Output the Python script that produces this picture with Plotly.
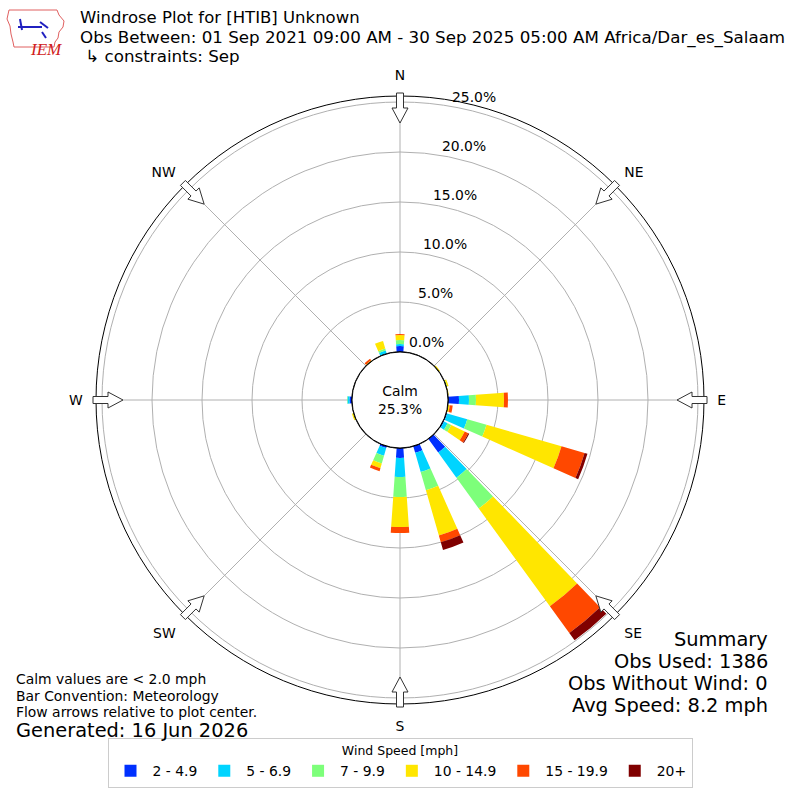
import math
import plotly.graph_objects as go

# wind direction bins (deg) and percent of obs per speed class
directions = [0, 50, 70, 80, 90, 100, 110, 120, 140, 160, 180, 200, 250, 270, 320, 340]
speed_bins = ["2 - 4.9", "5 - 6.9", "7 - 9.9", "10 - 14.9", "15 - 19.9", "20+"]
s_2_5 = [0.6, 0, 0, 0, 1.1, 0, 0.1, 0.1, 1.7, 0.7, 1.0, 0.2, 0, 0.25, 0, 0.05]
s_5_7 = [0.2, 0, 0, 0, 1.0, 0, 2.1, 0.4, 3.1, 2.0, 1.9, 0.8, 0, 0.2, 0, 0.3]
s_7_10 = [0.4, 0, 0.1, 0, 0.7, 0, 2.0, 0.4, 3.8, 1.9, 2.0, 0.8, 0.05, 0.05, 0, 0.2]
s_10_15 = [0.5, 0.15, 0.15, 0.1, 2.8, 0.2, 7.8, 1.5, 12.1, 4.7, 3.0, 0.5, 0.15, 0, 0.1, 0.8]
s_15_20 = [0.1, 0, 0, 0, 0.4, 0.3, 2.4, 0.4, 3.3, 0.7, 0.6, 0.3, 0, 0, 0.2, 0]
s_20p = [0, 0, 0, 0, 0, 0, 0.3, 0.1, 0.9, 0.8, 0, 0, 0, 0, 0, 0]
series = [s_2_5, s_5_7, s_7_10, s_10_15, s_15_20, s_20p]
colors = ["#0030ff", "#00d4ff", "#7dff7a", "#ffe600", "#ff4800", "#800000"]

calm_pct = 25.3
radial_ticks = [0, 5, 10, 15, 20, 25]
compass = ["N", "NE", "E", "SE", "S", "SW", "W", "NW"]
compass_deg = [0, 45, 90, 135, 180, 225, 270, 315]

W = H = 800
R_OUT = 304
R_HOLE = 48
R_MAX = 25.6
scale = (R_OUT - R_HOLE) / R_MAX

fig = go.Figure()
for name, vals, color in zip(speed_bins, series, colors):
    fig.add_trace(go.Barpolar(
        r=vals, theta=directions, width=8, name=name,
        marker=dict(color=color, line=dict(width=0)),
    ))

# black ring around the calm hole
fig.add_trace(go.Scatterpolar(
    r=[0] * 361, theta=list(range(361)), mode="lines",
    line=dict(color="black", width=1.3), showlegend=False, hoverinfo="skip",
))


def px(x, y):
    return x / W, 1 - y / H


# hollow flow arrows on the rim
shapes = []
arrow = [(277, 0), (292, 8), (292, 3.5), (307, 3.5), (307, -3.5), (292, -3.5), (292, -8)]
for deg in compass_deg:
    t = math.radians(deg)
    pts = []
    for u, v in arrow:
        x = 400 + u * math.sin(t) + v * math.cos(t)
        y = 400 - u * math.cos(t) + v * math.sin(t)
        pts.append(px(x, y))
    path = "M " + " L ".join(f"{a:.5f},{b:.5f}" for a, b in pts) + " Z"
    shapes.append(dict(type="path", xref="paper", yref="paper", path=path,
                       fillcolor="white", line=dict(color="#333333", width=1)))

# rough IEM logo outline
iowa = [(9, 10), (57, 10), (59, 15), (64, 21), (63, 27), (59, 32), (58, 38), (55, 42), (54, 47),
        (14, 47), (13, 42), (11, 34), (10, 26), (7, 19)]
shapes.append(dict(type="path", xref="paper", yref="paper",
                   path="M " + " L ".join("%.5f,%.5f" % px(a, b) for a, b in iowa) + " Z",
                   line=dict(color="#e06060", width=1)))
for seg in [[(18, 27), (42, 27)], [(40, 22), (48, 28)], [(20, 19), (22, 30)], [(42, 32), (46, 38)]]:
    (x0, y0), (x1, y1) = px(*seg[0]), px(*seg[1])
    shapes.append(dict(type="line", xref="paper", yref="paper", x0=x0, y0=y0, x1=x1, y1=y1,
                       line=dict(color="#2020c0", width=2)))

font = "DejaVu Sans"
ann = []


def text(s, x, y, size, xanchor="left", **kw):
    a, b = px(x, y)
    ann.append(dict(text=s, x=a, y=b, xref="paper", yref="paper", xanchor=xanchor,
                    yanchor="middle", showarrow=False, font=dict(family=font, size=size, color="black"), **kw))


text("Windrose Plot for [HTIB] Unknown", 78, 18, 16.5)
text("Obs Between: 01 Sep 2021 09:00 AM - 30 Sep 2025 05:00 AM Africa/Dar_es_Salaam", 78, 38, 16.7)
text(" ↳ constraints: Sep", 78, 56, 16.7)
text("Calm values are < 2.0 mph", 14, 679, 13.9)
text("Bar Convention: Meteorology", 14, 696, 13.9)
text("Flow arrows relative to plot center.", 14, 712, 13.9)
text("Generated: 16 Jun 2026", 14, 730, 19.4)
text("Summary", 770, 639, 19.4, xanchor="right")
text("Obs Used: 1386", 770, 661, 19.4, xanchor="right")
text("Obs Without Wind: 0", 770, 683, 19.4, xanchor="right")
text("Avg Speed: 8.2 mph", 770, 705, 19.4, xanchor="right")
text("Calm<br>%.1f%%" % calm_pct, 400, 400, 13.9, xanchor="center")
ann.append(dict(text="<i>IEM</i>", x=px(28, 38)[0], y=px(28, 38)[1], xref="paper", yref="paper",
                showarrow=False, font=dict(family="Liberation Serif", size=17, color="#d02020")))

# radial percent labels, set just outside each ring a little right of north
lab = math.radians(11)
for v in radial_ticks:
    r = R_HOLE + v * scale
    text("%.1f%%" % v, 400 + r * math.sin(lab) + 17, 400 - r * math.cos(lab) - 10.5, 13.9, xanchor="center")

d0 = (400 - R_OUT) / W
d1 = (400 + R_OUT) / W
fig.update_layout(
    width=W, height=H,
    margin=dict(l=0, r=0, t=0, b=0),
    paper_bgcolor="white",
    font=dict(family=font, color="black"),
    shapes=shapes,
    annotations=ann,
    polar=dict(
        domain=dict(x=[d0, d1], y=[d0, d1]),
        hole=R_HOLE / R_OUT,
        bgcolor="white",
        barmode="stack",
        radialaxis=dict(
            range=[0, R_MAX], tickvals=radial_ticks, showticklabels=False,
            showline=False, ticks="", gridcolor="#b0b0b0", gridwidth=1,
        ),
        angularaxis=dict(
            rotation=90, direction="clockwise",
            tickmode="array", tickvals=compass_deg, ticktext=compass,
            showline=True, linecolor="black", linewidth=1,
            ticks="outside", ticklen=10, tickcolor="rgba(0,0,0,0)",
            gridcolor="#b0b0b0", gridwidth=1,
            tickfont=dict(size=13.9, family=font, color="black"),
        ),
    ),
    legend=dict(
        orientation="h", x=0.5, xanchor="center", y=0.015, yanchor="bottom",
        title=dict(text="Wind Speed [mph]", side="top center", font=dict(size=12.5)),
        bordercolor="#cccccc", borderwidth=1, bgcolor="white",
        font=dict(size=13.9, family=font), itemwidth=34,
    ),
)

fig.write_html("out.html", config={"displayModeBar": False},
               post_script="document.body.style.margin='0';")
